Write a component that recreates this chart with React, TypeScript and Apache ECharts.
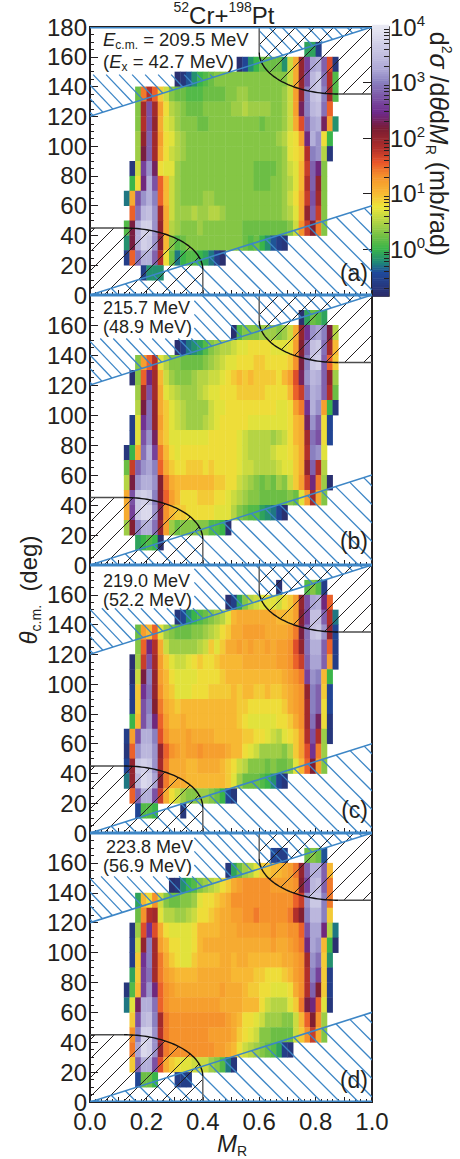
import React, { useEffect, useRef } from "react";
import * as echarts from "echarts";

// Each row: [theta bin lower edge, first MR column (column width 0.02), ...log10(value)*10]
const panelA: number[][] = [
  [160, 38, -1, -1, -6],
  [150, 26, -8, -5, -2, 0, 2, 2, 2, 2, -2, 6, 11, 20, 26, 32, 33, 28, 16, -7],
  [140, 15, -8, -7, -4, -2, 0, 1, 2, 3, 3, 3, 3, 3, 3, 3, 3, 3, 3, 3, 3, 3, 6, 11, 20, 27, 34, 36, 29, 18, 1],
  [130, 8, 2, 14, 18, 15, 9, 6, 3, 2, 2, 1, 1, 1, 2, 2, 2, 2, 3, 3, 4, 4, 3, 3, 3, 3, 3, 3, 4, 6, 12, 20, 30, 35, 36, 30, 19, 1],
  [120, 8, 3, 19, 27, 19, 12, 8, 5, 4, 3, 2, 2, 2, 3, 3, 3, 3, 3, 4, 4, 5, 4, 4, 4, 4, 3, 3, 4, 6, 12, 23, 30, 34, 35, 29, 15],
  [110, 8, 3, 18, 27, 20, 11, 7, 6, 4, 3, 3, 3, 2, 2, 3, 3, 3, 3, 3, 3, 3, 3, 3, 2, 3, 3, 3, 4, 6, 11, 16, 28, 32, 33, 23, 12, -2],
  [100, 8, 4, 20, 28, 19, 12, 8, 7, 5, 4, 3, 3, 3, 3, 3, 3, 3, 3, 3, 3, 3, 3, 3, 3, 3, 3, 4, 5, 7, 8, 12, 24, 33, 31, 8, 0],
  [90, 8, 4, 22, 28, 19, 11, 8, 6, 5, 4, 3, 3, 3, 3, 3, 3, 3, 3, 3, 3, 3, 3, 3, 3, 3, 3, 3, 4, 7, 8, 9, 18, 30, 31, 5, -7],
  [80, 7, -7, 6, 26, 31, 23, 8, 7, 7, 4, 3, 3, 3, 3, 3, 3, 3, 3, 3, 3, 3, 3, 3, 2, 2, 2, 2, 3, 4, 6, 7, 10, 17, 28, 24, 3],
  [70, 7, 0, 8, 24, 33, 27, 15, 10, 6, 4, 3, 3, 3, 3, 3, 3, 3, 3, 3, 3, 3, 3, 3, 2, 2, 2, 3, 3, 4, 5, 7, 10, 18, 28, 20, 3],
  [60, 6, -3, 11, 27, 31, 33, 30, 15, 10, 6, 4, 3, 3, 3, 3, 4, 4, 3, 3, 3, 3, 3, 3, 3, 3, 3, 3, 3, 3, 4, 6, 8, 11, 17, 27, 19, 3],
  [50, 7, 15, 29, 34, 35, 31, 19, 11, 6, 4, 4, 4, 5, 4, 4, 5, 5, 4, 3, 3, 3, 3, 3, 3, 3, 3, 3, 3, 4, 5, 7, 11, 20, 28, 17, 3],
  [40, 6, 1, 22, 33, 37, 37, 31, 20, 11, 5, 4, 3, 3, 3, 4, 3, 3, 3, 3, 3, 3, 3, 2, 2, 2, 2, 2, 2, 2, 2, 3, 6, 13, 17, 21, 14, 3],
  [30, 6, -2, 22, 33, 37, 36, 31, 21, 10, 3, 1, 2, 3, 3, 3, 3, 3, 3, 3, 3, 3, 3, 2, 1, 2, 0, -2, -4, -6, -7],
  [20, 6, -6, 15, 29, 33, 33, 28, 18, 8, 2, -3, 0, 1, 1, 0, -1, -3, -6, -8],
  [10, 9, -6, -2, -2, -2],
];

const panelB: number[][] = [
  [160, 37, -8, -1, 2, 1, -1],
  [150, 25, -8, 1, 3, 3, 3, 4, 4, 4, 3, 4, 6, 11, 20, 25, 31, 32, 30, 22, 5],
  [140, 15, -8, -6, -3, -2, -1, 1, 3, 4, 5, 5, 6, 7, 7, 8, 8, 8, 8, 7, 7, 7, 8, 12, 21, 28, 35, 36, 29, 19, 10],
  [130, 8, 3, 12, 15, 18, 7, 5, 3, 3, 2, 2, 2, 2, 3, 4, 5, 6, 7, 7, 8, 8, 8, 9, 9, 8, 8, 8, 8, 9, 13, 22, 30, 36, 37, 28, 15, 9],
  [120, 7, -8, 3, 15, 24, 19, 10, 6, 4, 3, 3, 3, 4, 5, 5, 6, 6, 7, 8, 9, 10, 9, 10, 9, 9, 9, 9, 8, 10, 12, 16, 23, 31, 34, 33, 28, 20, 4],
  [110, 8, 4, 19, 27, 19, 11, 7, 6, 5, 4, 4, 4, 5, 6, 7, 7, 8, 8, 8, 9, 9, 9, 9, 9, 8, 8, 8, 8, 10, 15, 17, 29, 33, 32, 28, 18, 2],
  [100, 8, 5, 22, 29, 20, 11, 9, 7, 6, 5, 4, 4, 4, 4, 6, 7, 7, 8, 8, 8, 8, 8, 8, 8, 8, 8, 7, 7, 8, 12, 14, 25, 33, 31, 12, 0, -7],
  [90, 7, -6, 7, 25, 29, 20, 12, 9, 7, 6, 5, 4, 4, 4, 5, 6, 7, 8, 8, 8, 8, 8, 7, 7, 7, 7, 7, 7, 7, 8, 10, 11, 23, 31, 28, 8, -5],
  [80, 7, -6, 7, 27, 31, 23, 11, 9, 7, 7, 7, 7, 7, 7, 7, 8, 8, 8, 8, 8, 7, 6, 5, 5, 5, 5, 4, 5, 6, 8, 10, 11, 19, 29, 27, 8, -5],
  [70, 6, -7, 0, 11, 29, 33, 26, 14, 10, 8, 7, 8, 8, 8, 8, 8, 8, 8, 8, 8, 8, 7, 6, 5, 5, 5, 5, 6, 7, 7, 8, 9, 11, 18, 30, 31, 7],
  [60, 6, 2, 17, 28, 31, 32, 30, 15, 11, 9, 8, 8, 9, 9, 9, 8, 9, 8, 8, 8, 8, 7, 6, 6, 5, 5, 5, 5, 6, 7, 7, 9, 11, 20, 28, 18, 5],
  [50, 6, 5, 22, 31, 33, 33, 31, 21, 14, 11, 10, 10, 10, 10, 10, 10, 10, 9, 9, 8, 8, 6, 5, 4, 3, 2, 3, 2, 4, 3, 6, 9, 12, 17, 24, 14, 4, -8],
  [40, 6, 11, 27, 36, 37, 36, 30, 21, 15, 12, 10, 8, 8, 8, 9, 9, 9, 8, 8, 7, 6, 5, 4, 3, 3, 2, 2, 2, 2, 2, 3, 2, 7, 12, 19, 11, 3],
  [30, 6, 11, 26, 36, 38, 38, 31, 22, 13, 10, 9, 9, 8, 8, 8, 8, 8, 7, 7, 7, 5, 3, 2, 1, 1, -1, -2, -3, -5, -8],
  [20, 6, 4, 21, 30, 33, 33, 29, 20, 12, 4, 2, 3, 3, 3, 3, 3, 1, 1, 0, -8],
  [10, 8, -1, 0, 1, 0, -8],
];

const panelC: number[][] = [
  [160, 33, -8],
  [160, 38, 1, 3, 1, -6],
  [150, 24, -8, -6, -1, 3, 5, 6, 7, 7, 7, 6, 8, 9, 12, 20, 27, 32, 33, 24, 15],
  [140, 15, -7, -5, -2, 0, 1, 2, 3, 4, 5, 7, 10, 11, 11, 11, 11, 11, 11, 11, 10, 10, 10, 12, 21, 26, 35, 35, 28, 18, -3],
  [130, 8, 2, 12, 10, 15, 7, 4, 3, 2, 2, 2, 3, 3, 4, 5, 6, 8, 9, 11, 11, 12, 12, 12, 12, 11, 11, 11, 11, 12, 14, 22, 29, 35, 36, 31, 20, -5],
  [120, 8, 3, 15, 24, 18, 11, 6, 4, 4, 4, 4, 4, 5, 6, 9, 7, 9, 11, 11, 12, 11, 12, 11, 11, 12, 11, 12, 12, 13, 16, 20, 29, 33, 33, 28, 15, -6],
  [110, 7, -8, 4, 17, 27, 19, 12, 9, 7, 6, 6, 7, 8, 9, 8, 8, 9, 10, 10, 10, 10, 11, 11, 11, 11, 11, 11, 12, 12, 13, 15, 17, 28, 32, 32, 28, 12, -6],
  [100, 7, -8, 6, 22, 30, 20, 12, 10, 8, 7, 7, 7, 7, 8, 8, 8, 8, 9, 10, 10, 10, 10, 10, 10, 10, 10, 10, 10, 11, 12, 13, 14, 26, 31, 30, 10, 0],
  [90, 7, -6, 9, 25, 29, 20, 13, 10, 9, 7, 7, 7, 8, 8, 8, 9, 9, 9, 9, 10, 9, 10, 10, 9, 9, 10, 9, 9, 10, 11, 12, 13, 20, 30, 28, 9, -5],
  [80, 7, -6, 9, 27, 30, 21, 14, 11, 10, 9, 10, 10, 10, 10, 10, 10, 10, 10, 10, 10, 9, 9, 8, 8, 8, 8, 8, 8, 9, 11, 12, 13, 19, 30, 28, 8, -5],
  [70, 7, 0, 10, 27, 31, 24, 15, 12, 10, 10, 11, 10, 10, 10, 10, 10, 10, 10, 10, 10, 9, 8, 7, 7, 7, 7, 7, 8, 8, 9, 11, 13, 19, 29, 23, 8, -7],
  [60, 6, -6, 12, 27, 33, 33, 30, 16, 13, 11, 11, 11, 12, 11, 11, 11, 11, 10, 10, 10, 10, 10, 9, 9, 8, 8, 7, 6, 5, 7, 8, 9, 12, 18, 27, 18, 4, -7],
  [50, 6, -7, 15, 31, 34, 34, 31, 20, 15, 13, 12, 11, 12, 12, 13, 12, 12, 12, 12, 11, 10, 10, 8, 7, 6, 4, 4, 4, 4, 3, 5, 9, 12, 16, 25, 14, 4],
  [40, 6, -5, 20, 36, 37, 36, 31, 19, 14, 11, 11, 11, 10, 10, 11, 11, 11, 11, 10, 9, 8, 6, 5, 3, 3, 3, 2, 3, 2, 2, 3, 7, 10, 15, 21, 12, 3],
  [30, 6, -3, 20, 34, 38, 37, 32, 21, 14, 11, 11, 11, 10, 10, 10, 10, 10, 10, 10, 9, 7, 4, 2, 2, 2, 1, 0, -2, -5, -7],
  [20, 7, 15, 28, 33, 33, 27, 17, 11, 8, 6, 4, 3, 3, 4, 4, 3, 2, 0, -5, -7],
  [10, 8, -5, 1, 1, 0],
  [10, 16, -7],
];

const panelD: number[][] = [
  [160, 32, -5, -6, -6],
  [160, 38, 2, 3, 2, -4],
  [150, 24, -7, -1, 2, 4, 5, 7, 9, 9, 10, 10, 11, 12, 14, 20, 28, 33, 33, 28, 10],
  [140, 14, -8, -7, -2, 0, 1, 3, 4, 5, 6, 8, 9, 11, 12, 13, 13, 13, 13, 13, 12, 12, 12, 12, 13, 21, 26, 34, 35, 28, 14],
  [130, 8, -1, 10, 8, 13, 6, 3, 2, 2, 3, 3, 4, 7, 8, 8, 9, 10, 11, 13, 13, 13, 13, 13, 13, 13, 13, 13, 13, 13, 15, 17, 31, 36, 36, 30, 14],
  [120, 8, 2, 13, 18, 19, 7, 5, 5, 4, 4, 5, 6, 8, 8, 9, 10, 11, 11, 12, 12, 13, 13, 14, 13, 13, 13, 13, 13, 14, 18, 21, 30, 34, 34, 30, 9],
  [110, 7, -7, 4, 16, 25, 16, 11, 8, 7, 7, 7, 7, 8, 10, 10, 10, 10, 11, 11, 11, 12, 12, 12, 12, 12, 12, 13, 12, 12, 13, 13, 15, 27, 32, 32, 24, 5, -3],
  [100, 7, -6, 6, 20, 30, 19, 12, 10, 8, 8, 7, 7, 8, 10, 11, 11, 11, 11, 11, 11, 11, 11, 11, 11, 11, 11, 12, 11, 11, 12, 13, 14, 24, 32, 31, 10, 0, -8],
  [90, 7, -6, 9, 25, 30, 19, 14, 11, 9, 8, 7, 7, 9, 10, 10, 10, 10, 11, 11, 10, 11, 11, 10, 10, 10, 10, 10, 10, 11, 11, 12, 13, 19, 31, 29, 9, -2],
  [80, 7, -1, 9, 26, 29, 19, 14, 12, 11, 10, 10, 10, 10, 11, 11, 11, 11, 11, 11, 10, 10, 10, 10, 9, 9, 8, 8, 8, 9, 10, 12, 13, 18, 30, 26, 9, -6],
  [70, 6, -7, 1, 10, 26, 31, 24, 15, 13, 12, 11, 11, 11, 11, 11, 11, 11, 11, 12, 11, 11, 11, 10, 9, 9, 8, 8, 7, 7, 7, 8, 11, 13, 18, 28, 21, 9, -6],
  [60, 6, -3, 7, 23, 33, 33, 29, 15, 13, 12, 12, 12, 12, 12, 12, 12, 12, 12, 11, 11, 11, 11, 10, 10, 10, 8, 6, 5, 5, 5, 7, 9, 14, 22, 24, 15, 7, -7],
  [50, 7, 9, 27, 34, 35, 30, 19, 14, 13, 13, 13, 13, 13, 13, 13, 13, 13, 13, 12, 11, 10, 8, 8, 7, 6, 4, 4, 4, 3, 3, 6, 10, 15, 21, 13, 4],
  [40, 7, 13, 30, 37, 37, 31, 18, 14, 13, 13, 13, 13, 13, 13, 13, 12, 12, 12, 12, 11, 9, 8, 7, 6, 3, 3, 2, 2, 2, 2, 6, 9, 13, 17, 11, 3],
  [30, 7, 14, 32, 38, 37, 31, 20, 14, 13, 13, 13, 13, 13, 13, 13, 13, 12, 12, 11, 10, 8, 6, 5, 4, 3, 2, 1, -1, -6, -7],
  [20, 7, 9, 28, 33, 33, 27, 16, 11, 9, 8, 7, 7, 6, 6, 6, 4, 3, 1, -3, -7],
  [10, 8, -5, 2, 2, 0],
  [10, 15, -6, -6, -6],
];

const panelRows = [panelA, panelB, panelC, panelD];
const panelTops = [27, 295, 565, 833];
const panelHeights = [268, 270, 268, 269];
const panelTags = ["(a)", "(b)", "(c)", "(d)"];
const panelTagY = [273, 541, 810, 1080];
const yTicksMajor = [0, 20, 40, 60, 80, 100, 120, 140, 160, 180];
const colorbarMajor = [0, 1, 2, 3, 4];
const colorbarMinor = [-0.699, -0.523, -0.398, -0.301, -0.222, -0.155, -0.097, -0.046];

// Colour scale stops in log10*10 units.
const colorStops: [number, string][] = [
  [-8.4, "#2b2d6b"], [-4.3, "#1f4a9c"], [-2.5, "#1f8878"], [0, "#3ab54a"], [2, "#6cbe45"],
  [4.4, "#a8d046"], [7.5, "#ece63a"], [10, "#f7b833"], [13, "#f5922c"], [15.5, "#e9552a"],
  [17.9, "#b3302a"], [21.5, "#7a1c32"], [24.5, "#6e2a8c"], [30, "#8a80c0"], [32.2, "#ada8d6"], [40, "#e9e9f3"],
];

// Excluded-coverage shapes (data coordinates).
const blueLower: number[][] = [[0, 0], [1, 60], [1, 0]];
const blueUpperByPanel: number[][][][] = [
  [[[0, 120], [0.467, 148], [0, 148]], [[0.6, 156], [1, 180], [0.6, 180]]],
  [[[0, 120], [1, 180], [0.37, 180], [0.37, 151], [0, 151]]],
  [[[0, 120], [1, 180], [0.37, 180], [0.37, 151], [0, 151]]],
  [[[0, 120], [1, 180], [0.37, 180], [0.37, 151], [0, 151]]],
];

const INK = "#231f20";
const BLUE = "#3d86c6";
const FONT = "Liberation Sans";

function hex(c: string) {
  return [parseInt(c.slice(1, 3), 16), parseInt(c.slice(3, 5), 16), parseInt(c.slice(5, 7), 16)];
}
function colorAt(v: number) {
  const s = colorStops;
  if (v <= s[0][0]) return s[0][1];
  for (let i = 1; i < s.length; i++) {
    if (v <= s[i][0]) {
      const t = (v - s[i - 1][0]) / (s[i][0] - s[i - 1][0]);
      const a = hex(s[i - 1][1]);
      const b = hex(s[i][1]);
      return `rgb(${a.map((p, k) => Math.round(p + (b[k] - p) * t)).join(",")})`;
    }
  }
  return s[s.length - 1][1];
}

function hatch(poly: number[][], slope: number, x0: number, y0: number, spacing: number) {
  const segs: number[][] = [];
  for (let k = -60; k <= 60; k++) {
    const xr = x0 + k * spacing;
    const f = (p: number[]) => p[1] - y0 - slope * (p[0] - xr);
    const pts: number[][] = [];
    for (let i = 0; i < poly.length; i++) {
      const a = poly[i];
      const b = poly[(i + 1) % poly.length];
      const fa = f(a);
      const fb = f(b);
      if ((fa < 0 && fb >= 0) || (fa >= 0 && fb < 0)) {
        const t = fa / (fa - fb);
        pts.push([a[0] + t * (b[0] - a[0]), a[1] + t * (b[1] - a[1])]);
      }
    }
    pts.sort((p, q) => p[0] - q[0]);
    for (let i = 0; i + 1 < pts.length; i += 2) segs.push([pts[i][0], pts[i][1], pts[i + 1][0], pts[i + 1][1]]);
  }
  return segs;
}

function arc(cx: number, cy: number, rx: number, ry: number, a0: number, a1: number) {
  const out: number[][] = [];
  for (let i = 0; i <= 48; i++) {
    const a = a0 + ((a1 - a0) * i) / 48;
    out.push([cx + rx * Math.cos(a), cy + ry * Math.sin(a)]);
  }
  return out;
}

const arcLow = arc(0.12, 17, 0.28, 28, Math.PI / 2, 0);
const arcHigh = arc(0.88, 163, 0.28, 28, Math.PI, (3 * Math.PI) / 2);
const blackLower = [[0, 45], ...arcLow, [0.4, 0], [0, 0]];
const blackUpper = [[0.6, 180], ...arcHigh, [1, 135], [1, 180]];

export default function App() {
  const ref = useRef<HTMLDivElement>(null);
  useEffect(() => {
    const chart = echarts.init(ref.current!, undefined, { renderer: "svg" });
    const grids: any[] = [];
    const xAxes: any[] = [];
    const yAxes: any[] = [];
    const series: any[] = [];

    panelRows.forEach((rows, p) => {
      grids.push({ left: 90, width: 282, top: panelTops[p], height: panelHeights[p], show: true, borderColor: INK, borderWidth: 2, backgroundColor: "transparent" });
      xAxes.push({
        type: "value", gridIndex: p, min: 0, max: 1, interval: 0.1,
        axisLine: { show: false }, splitLine: { show: false },
        axisTick: { inside: true, length: 5, lineStyle: { color: INK, width: 1 } },
        minorTick: { show: true, splitNumber: 5, length: 3, lineStyle: { color: INK, width: 1 } },
        axisLabel: {
          show: p === 3, color: INK, fontFamily: FONT, fontSize: 24, margin: 7,
          formatter: (v: number) => (Math.round(v * 10) % 2 === 0 ? v.toFixed(1) : ""),
          hideOverlap: false,
        },
      });
      yAxes.push({
        type: "value", gridIndex: p, min: 0, max: 180, interval: 20,
        axisLine: { show: false }, splitLine: { show: false },
        axisTick: { inside: true, length: 8, lineStyle: { color: INK, width: 1 } },
        minorTick: { show: true, splitNumber: 4, length: 4, lineStyle: { color: INK, width: 1 } },
        axisLabel: {
          color: INK, fontFamily: FONT, fontSize: 24, margin: 3, hideOverlap: false,
          formatter: (v: number) => (v === yTicksMajor[9] && p > 0 ? "" : String(v)),
        },
      });
      const cells: number[][] = [];
      rows.forEach((r) => {
        for (let i = 2; i < r.length; i++) cells.push([(r[1] + i - 2) * 0.02, r[0], r[i]]);
      });
      series.push({
        type: "custom", coordinateSystem: "cartesian2d", xAxisIndex: p, yAxisIndex: p, z: 2, silent: true,
        data: cells, encode: { x: 0, y: 1 },
        renderItem: (_: any, api: any) => {
          const x = api.value(0);
          const y = api.value(1);
          const a = api.coord([x, y + 10]);
          const b = api.coord([x + 0.02, y]);
          return {
            type: "rect",
            shape: { x: a[0], y: a[1], width: b[0] - a[0] + 0.4, height: b[1] - a[1] + 0.4 },
            style: { fill: colorAt(api.value(2)) },
          };
        },
      });
      series.push({
        type: "custom", coordinateSystem: "cartesian2d", xAxisIndex: p, yAxisIndex: p, z: 3, silent: true,
        data: [[0, 0]], encode: { x: 0, y: 1 }, clip: true,
        renderItem: (_: any, api: any) => {
          const px = (l: number[][]) => l.map((q) => api.coord(q));
          const bottom = api.coord([0, 0])[1];
          const children: any[] = [];
          const seg = (s: number[], stroke: string, w: number) =>
            children.push({ type: "line", shape: { x1: s[0], y1: s[1], x2: s[2], y2: s[3] }, style: { stroke, lineWidth: w } });
          hatch(px(blueLower), 1, 266, bottom, 18.5).forEach((s) => seg(s, BLUE, 1.3));
          blueUpperByPanel[p].forEach((poly) => hatch(px(poly), 1.05, 316, bottom, 13).forEach((s) => seg(s, BLUE, 1.3)));
          hatch(px(blackLower), -1, 123, bottom, 19).forEach((s) => seg(s, INK, 1));
          hatch(px(blackUpper), -1, 123, bottom, 19).forEach((s) => seg(s, INK, 1));
          const poly = (l: number[][], stroke: string, w: number) =>
            children.push({ type: "polyline", shape: { points: px(l) }, style: { stroke, lineWidth: w, fill: "none" } });
          poly([[0, 45], [0.12, 45]], "#4d4d4d", 1.3);
          poly(arcLow, "#111", 1.4);
          poly([[0.4, 17], [0.4, 0]], "#666", 1.5);
          poly([[0.6, 180], [0.6, 163]], "#666", 1.5);
          poly(arcHigh, "#111", 1.4);
          poly([[0.88, 135], [1, 135]], "#4d4d4d", 1.3);
          poly([[0, 120], [1, 180]], BLUE, 1.6);
          poly([[0, 0], [1, 60]], BLUE, 1.6);
          poly([[0, 180], [1, 180]], BLUE, 3);
          poly([[0, 0], [1, 0]], BLUE, 3);
          return { type: "group", children };
        },
      });
    });

    // colour bar
    grids.push({ left: 372, width: 17, top: 27, height: 269, show: true, borderColor: INK, borderWidth: 1.5, backgroundColor: "transparent" });
    xAxes.push({ type: "value", gridIndex: 4, min: 0, max: 1, show: false });
    yAxes.push({
      type: "value", gridIndex: 4, position: "right", min: -0.84, max: 4,
      axisLine: { show: false }, splitLine: { show: false },
      axisTick: { inside: true, length: 9, customValues: colorbarMajor, lineStyle: { color: INK, width: 1 } },
      axisLabel: {
        customValues: colorbarMajor, margin: 1, hideOverlap: false,
        formatter: (v: number) => `{a|10}{b|${Math.round(v)}}`,
        rich: {
          a: { fontFamily: FONT, fontSize: 24, color: INK, lineHeight: 28 },
          b: { fontFamily: FONT, fontSize: 15, color: INK, verticalAlign: "top", lineHeight: 16 },
        },
      },
    });
    const minorAll: number[] = [];
    colorbarMajor.forEach((d) => { if (d < 4) colorbarMinor.forEach((m) => minorAll.push(d + 1 + m)); });
    colorbarMinor.forEach((m) => { if (m > -0.84) minorAll.push(m); });
    yAxes.push({
      type: "value", gridIndex: 4, position: "right", min: -0.84, max: 4,
      axisLine: { show: false }, splitLine: { show: false },
      axisTick: { inside: true, length: 5, customValues: minorAll, lineStyle: { color: INK, width: 1 } },
      axisLabel: { show: false },
    });
    const steps: number[][] = [];
    for (let v = -8.4; v < 40; v += 0.4) steps.push([0, v / 10, v]);
    series.push({
      type: "custom", coordinateSystem: "cartesian2d", xAxisIndex: 4, yAxisIndex: 4, z: 0, silent: true,
      data: steps, encode: { x: 0, y: 1 },
      renderItem: (_: any, api: any) => {
        const y = api.value(1);
        const a = api.coord([0, y + 0.04]);
        const b = api.coord([1, y]);
        return {
          type: "rect",
          shape: { x: a[0], y: a[1], width: b[0] - a[0], height: b[1] - a[1] + 0.5 },
          style: { fill: colorAt(api.value(2)) },
        };
      },
    });

    const txt = (x: number, y: number, text: string, fontSize: number, extra: any = {}, el: any = {}) => ({
      type: "text", x, y, z: 20, ...el,
      style: { text, fontFamily: FONT, fontSize, fill: INK, verticalAlign: "middle", align: "left", ...extra },
    });
    const richBase = {
      n: { fontFamily: FONT, fontSize: 24, color: INK, lineHeight: 30 },
      i: { fontFamily: FONT, fontSize: 24, fontStyle: "italic", color: INK, lineHeight: 30 },
      sup: { fontFamily: FONT, fontSize: 14, color: INK, verticalAlign: "top", lineHeight: 18 },
      sub: { fontFamily: FONT, fontSize: 14, color: INK, verticalAlign: "bottom", lineHeight: 16 },
      n2: { fontFamily: FONT, fontSize: 18.5, color: INK, lineHeight: 24 },
      i2: { fontFamily: FONT, fontSize: 18.5, fontStyle: "italic", color: INK, lineHeight: 24 },
      sub2: { fontFamily: FONT, fontSize: 12, color: INK, verticalAlign: "bottom", lineHeight: 14 },
      nb: { fontFamily: FONT, fontSize: 25, color: INK, lineHeight: 30 },
      ib: { fontFamily: FONT, fontSize: 25, fontStyle: "italic", color: INK, lineHeight: 30 },
    };
    const graphic: any[] = [
      txt(224, 15, "{sup|52}{n|Cr+}{sup|198}{n|Pt}", 24, { rich: richBase, align: "center" }),
      txt(103, 39, "{i2|E}{sub2|c.m.}{n2| = 209.5 MeV}", 18.5, { rich: richBase }),
      txt(103, 61, "{n2|(}{i2|E}{sub2|x}{n2| = 42.7 MeV)}", 18.5, { rich: richBase }),
      txt(103, 308, "215.7 MeV", 18),
      txt(103, 327, "(48.9 MeV)", 18),
      txt(103, 581, "219.0 MeV", 18),
      txt(103, 600, "(52.2 MeV)", 18),
      txt(106, 847, "223.8 MeV", 18),
      txt(103, 866, "(56.9 MeV)", 18),
      txt(232, 1143, "{i|M}{sub|R}", 24, { rich: richBase, align: "center" }),
      txt(28, 590, "{i|θ}{sub|c.m.}{n|  (deg)}", 24, { rich: richBase, align: "center" }, { rotation: Math.PI / 2 }),
      txt(439, 144, "{nb|d}{sup|2}{ib|σ}{nb| /d}{ib|θ}{nb|d}{ib|M}{sub|R}{nb| (mb/rad)}", 25, { rich: richBase, align: "center" }, { rotation: -Math.PI / 2 }),
    ];
    panelTags.forEach((t, p) => {
      graphic.push(txt(368, panelTagY[p], t, 23, { align: "right" }));
    });

    chart.setOption({
      animation: false,
      grid: grids,
      xAxis: xAxes,
      yAxis: yAxes,
      series,
      graphic,
    });
    return () => chart.dispose();
  }, []);
  return <div ref={ref} style={{ position: "absolute", left: 0, top: 0, width: 460, height: 1159 }} />;
}
